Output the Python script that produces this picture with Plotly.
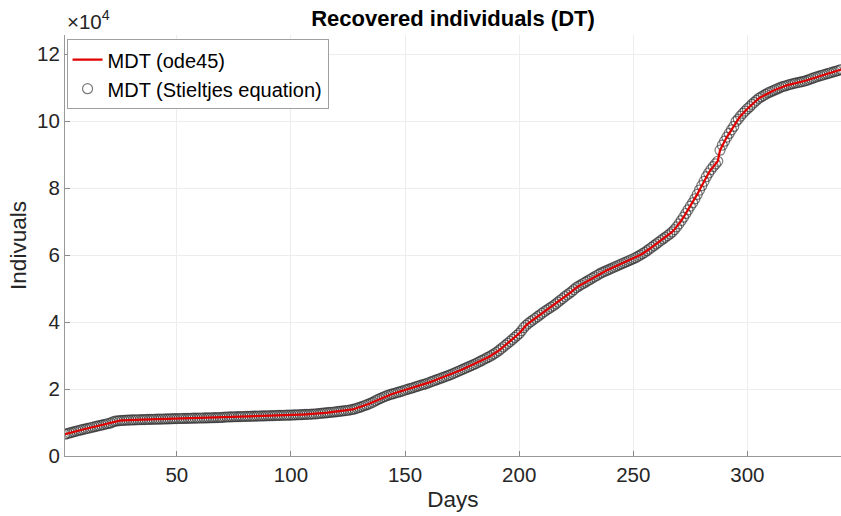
import plotly.graph_objects as go

days = list(range(1, 342))

recovered = [
    6500, 6700, 6890, 7080, 7260, 7440, 7610, 7780, 7950, 8110,
    8270, 8430, 8590, 8750, 8910, 9070, 9230, 9390, 9550, 9710,
    9870, 10200, 10400, 10500, 10580, 10620, 10660, 10700, 10730, 10760,
    10790, 10810, 10830, 10850, 10870, 10890, 10910, 10930, 10950, 10970,
    10990, 11010, 11030, 11050, 11070, 11090, 11110, 11130, 11150, 11170,
    11190, 11200, 11220, 11240, 11250, 11270, 11290, 11300, 11320, 11340,
    11350, 11370, 11390, 11400, 11420, 11440, 11460, 11480, 11500, 11530,
    11600, 11640, 11670, 11700, 11720, 11740, 11760, 11780, 11800, 11820,
    11840, 11860, 11880, 11900, 11920, 11940, 11960, 11980, 12000, 12020,
    12040, 12060, 12080, 12100, 12120, 12140, 12160, 12180, 12200, 12220,
    12250, 12280, 12310, 12340, 12370, 12400, 12430, 12460, 12500, 12540,
    12600, 12660, 12720, 12790, 12860, 12930, 13000, 13070, 13140, 13220,
    13300, 13390, 13480, 13570, 13660, 13760, 13900, 14100, 14300, 14500,
    14750, 15000, 15250, 15500, 15800, 16100, 16500, 16850, 17150, 17450,
    17750, 18000, 18250, 18450, 18650, 18850, 19050, 19250, 19450, 19700,
    19900, 20100, 20300, 20500, 20750, 20950, 21150, 21350, 21550, 21800,
    22050, 22300, 22550, 22800, 23050, 23300, 23550, 23800, 24050, 24300,
    24600, 24900, 25200, 25500, 25800, 26100, 26400, 26700, 27000, 27300,
    27600, 27950, 28300, 28650, 29000, 29350, 29700, 30100, 30500, 30950,
    31450, 32000, 32550, 33100, 33650, 34200, 34800, 35400, 36000, 36600,
    37400, 38300, 39000, 39600, 40100, 40600, 41100, 41600, 42100, 42600,
    43100, 43550, 44000, 44450, 44900, 45400, 45950, 46500, 47000, 47600,
    48100, 48600, 49100, 49700, 50300, 50700, 51100, 51500, 51900, 52300,
    52700, 53100, 53500, 53900, 54300, 54700, 55000, 55300, 55600, 55900,
    56200, 56500, 56800, 57100, 57400, 57700, 58000, 58300, 58600, 58900,
    59200, 59600, 60000, 60400, 60800, 61300, 61800, 62300, 62800, 63300,
    63800, 64300, 64800, 65300, 65800, 66300, 66900, 67600, 68400, 69300,
    70300, 71300, 72400, 73500, 74600, 75600, 76800, 78100, 79400, 80700,
    82000, 83400, 84500, 85500, 86400, 87200, 88000, 91300, 92800, 94000,
    95200, 96300, 97400, 98400, 99900, 100600, 101500, 102300, 103000, 103700,
    104300, 105000, 105600, 106200, 106800, 107200, 107600, 108000, 108400, 108700,
    109000, 109300, 109600, 109900, 110200, 110400, 110600, 110800, 111000, 111200,
    111350, 111500, 111650, 111800, 111950, 112150, 112400, 112650, 112900, 113150,
    113350, 113550, 113750, 113950, 114150, 114350, 114550, 114750, 114950, 115150,
    115400,
]

y_tick_vals = [0, 20000, 40000, 60000, 80000, 100000, 120000]
y_tick_text = ["0", "2", "4", "6", "8", "10", "12"]
x_tick_vals = [50, 100, 150, 200, 250, 300]

FONT = "Liberation Sans, Arial, Helvetica, sans-serif"
W, H = 841, 516

fig = go.Figure()
fig.add_trace(go.Scatter(
    x=days, y=recovered, mode="markers", name="MDT (Stieltjes equation)",
    marker=dict(symbol="circle-open", size=10, color="rgba(35,35,35,0.6)",
                line=dict(width=1.2, color="rgba(35,35,35,0.6)")),
    legendrank=2,
))
fig.add_trace(go.Scatter(
    x=days, y=recovered, mode="lines", name="MDT (ode45)",
    line=dict(color="#e00000", width=2.2),
    legendrank=1,
))

fig.update_layout(
    width=W, height=H,
    margin=dict(l=65, r=0, t=35, b=60, autoexpand=False),
    paper_bgcolor="white", plot_bgcolor="white",
    font=dict(family=FONT, size=20.5, color="#262626"),
    title=dict(text="<b>Recovered individuals (DT)</b>", x=453 / W,
               xanchor="center", xref="container",
               y=1 - 18 / H, yanchor="middle", yref="container",
               font=dict(size=22, color="black")),
    legend=dict(x=0.002, y=0.99, xanchor="left", yanchor="top",
                bgcolor="white", bordercolor="#a0a0a0", borderwidth=1,
                font=dict(size=20, color="black"), itemwidth=30,
                tracegroupgap=0),
    showlegend=True,
)
fig.update_xaxes(
    range=[1, 341], tickvals=x_tick_vals, ticks="inside", ticklen=5,
    tickcolor="#888888", showline=True, linecolor="#999999", linewidth=1,
    showgrid=True, gridcolor="#ededed", zeroline=False, automargin=False,
    title=dict(text="Days", font=dict(size=22.5), standoff=6),
)
fig.update_yaxes(
    range=[0, 125700], tickvals=y_tick_vals, ticktext=y_tick_text,
    ticks="inside", ticklen=5, tickcolor="#888888",
    showline=True, linecolor="#999999", linewidth=1,
    showgrid=True, gridcolor="#ededed", zeroline=False, automargin=False,
    title=dict(text="Indivuals", font=dict(size=22.5), standoff=4),
)
fig.add_annotation(
    x=0, y=1.0, xref="paper", yref="paper", xanchor="left", yanchor="bottom",
    yshift=0, text="×10<sup>4</sup>", showarrow=False,
    font=dict(size=20.5, color="#262626"),
)

fig.write_html(
    "out.html",
    config={"displayModeBar": False},
    post_script="document.body.style.margin='0';"
                "document.documentElement.style.overflow='hidden';"
                "document.body.style.overflow='hidden';",
)
